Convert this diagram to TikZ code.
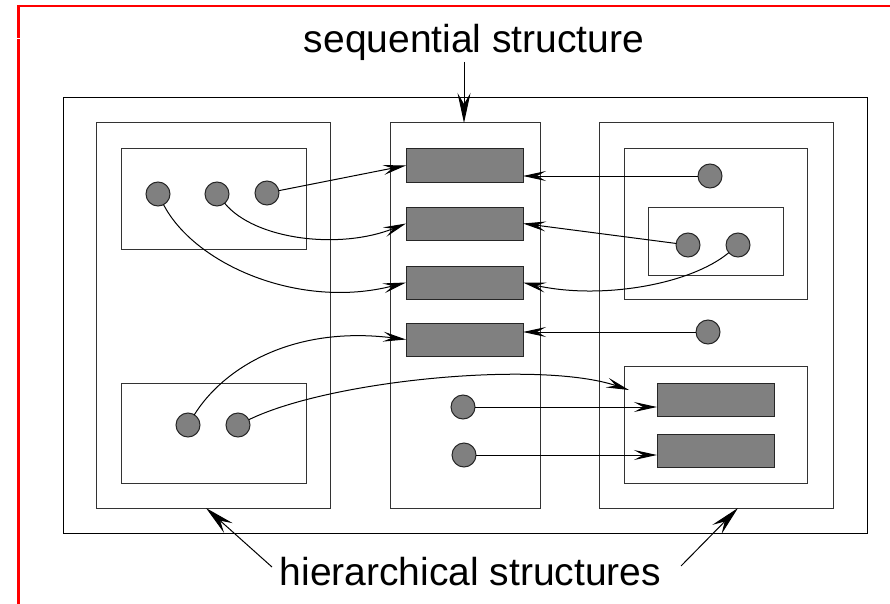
\documentclass[tikz,border=0pt]{standalone}
\usepackage{fontspec}
\setmainfont{Liberation Sans}
\usetikzlibrary{arrows.meta,calc}
\begin{document}
\begin{tikzpicture}[x=1pt,y=-1pt,
  box/.style={draw=black!80,line width=1pt,inner sep=0pt,outer sep=0pt},
  outerbox/.style={draw=black,line width=1pt,inner sep=0pt,outer sep=0pt},
  blk/.style={draw=black!85,fill=black!50,line width=1pt,inner sep=0pt,outer sep=0pt,minimum width=117pt,minimum height=33pt},
  circ/.style={circle,draw=black!85,fill=black!50,line width=1pt,inner sep=0pt,outer sep=0pt,minimum size=24pt},
  arr/.style={draw=black,line width=1pt,-{Stealth[length=23pt,width=10pt,inset=9pt]}},
  bigarr/.style={draw=black,line width=1pt,-{Stealth[length=30pt,width=13pt,inset=11pt]}},
  lbl/.style={font=\fontsize{39}{39}\selectfont,inner sep=0pt}]
\useasboundingbox (0,0) rectangle (890,604);
% red frame
\draw[red,line width=2.5pt] (17,6) -- (890,6);
\draw[red,line width=3.3pt] (18.5,4.8) -- (18.5,38.5);
\draw[red,line width=3.3pt] (18.5,39.5) -- (18.5,604);
% containers
\node[outerbox,minimum width=804pt,minimum height=435pt] (outer) at (465,315.5) {};
\node[box,minimum width=234pt,minimum height=385pt] (colL) at (213,315.5) {};
\node[box,minimum width=150pt,minimum height=385pt] (colM) at (465,315.5) {};
\node[box,minimum width=234pt,minimum height=385pt] (colR) at (716,315.5) {};
\node[box,minimum width=185pt,minimum height=100pt] (boxLT) at (213.5,199) {};
\node[box,minimum width=185pt,minimum height=100pt] (boxLB) at (213.5,433) {};
\node[box,minimum width=183pt,minimum height=150pt] (boxRT) at (715.5,224) {};
\node[box,minimum width=135pt,minimum height=68pt] (boxRN) at (715.5,241) {};
\node[box,minimum width=183pt,minimum height=117pt] (boxRB) at (715.5,424.5) {};
% sequential blocks
\node[blk] (m1) at (464.5,165.5) {};
\node[blk] (m2) at (464.5,223.5) {};
\node[blk] (m3) at (464.5,282.5) {};
\node[blk] (m4) at (464.5,339.5) {};
\node[blk] (r1) at (715.5,399.5) {};
\node[blk] (r2) at (715.5,450.5) {};
% circles
\node[circ] (a1) at (158,194) {};
\node[circ] (a2) at (217,194) {};
\node[circ] (a3) at (267,193) {};
\node[circ] (b1) at (188,425) {};
\node[circ] (b2) at (238,425) {};
\node[circ] (q1) at (710,176) {};
\node[circ] (q2) at (688,245) {};
\node[circ] (q3) at (738,245) {};
\node[circ] (q4) at (708,332) {};
\node[circ] (p1) at (463,407) {};
\node[circ] (p2) at (464,455) {};
% connectors
\draw[arr] (a3) -- (m1.west);
\draw[arr] (a2) .. controls (255,240) and (340,250) .. (m2.west);
\draw[arr] (a1) .. controls (195,265) and (300,310) .. (m3.west);
\draw[arr] (b1) .. controls (222,370) and (290,325) .. (m4.west);
\coordinate (t5) at (629,390);
\draw[arr] (b2) .. controls (330,380) and (540,360) .. (t5);
\draw[arr] (p1) -- (p1 -| r1.west);
\draw[arr] (p2) -- (p2 -| r2.west);
\draw[arr] (q1) -- (q1 -| m1.east);
\draw[arr] (q2) -- (m2.east);
\draw[arr] (q3) .. controls (690,285) and (600,300) .. (m3.east);
\draw[arr] (q4) -- (q4 -| m4.east);
% labels
\node[lbl,anchor=base] (seq) at (474,53) {sequential structure};
\node[lbl,anchor=base] (hier) at (470.5,585) {hierarchical structures};
\coordinate (sq) at (464,62);
\draw[bigarr] (sq) -- (sq |- colM.north);
\coordinate (h1) at (272,567);
\coordinate (h2) at (681,566);
\draw[bigarr] (h1) -- ($(colL.south west)!0.47!(colL.south east)$);
\draw[bigarr] (h2) -- ($(colR.south west)!0.594!(colR.south east)$);
\end{tikzpicture}
\end{document}
